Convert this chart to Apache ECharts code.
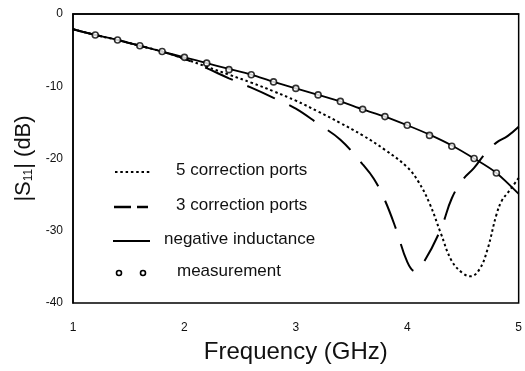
<!DOCTYPE html>
<html>
<head>
<meta charset="utf-8">
<script src="https://cdn.jsdelivr.net/npm/echarts@6/dist/echarts.min.js"></script>
<style>
html,body{margin:0;padding:0;background:#fff;}
#chart{width:525px;height:371px;}
</style>
</head>
<body>
<div id="chart"></div>
<script>
// ---- data ----
const negFreq = [1.0,1.2,1.4,1.6,1.8,2.0,2.2,2.4,2.6,2.8,3.0,3.2,3.4,3.6,3.8,4.0,4.2,4.4,4.6,4.8,5.0];
const negVal  = [-2.1,-2.9,-3.6,-4.4,-5.2,-6.0,-6.8,-7.6,-8.4,-9.4,-10.3,-11.2,-12.1,-13.2,-14.2,-15.4,-16.7,-18.2,-20.0,-22.0,-24.9];

const p5Freq = [1.0,1.2,1.4,1.6,1.8,2.0,2.2,2.4,2.6,2.8,3.0,3.2,3.4,3.6,3.8,4.0,4.1,4.2,4.3,4.4,4.5,4.57,4.65,4.72,4.8,4.85,4.9,5.0];
const p5Val  = [-2.1,-2.9,-3.6,-4.4,-5.2,-6.2,-7.3,-8.4,-9.5,-10.7,-12.0,-13.5,-15.1,-16.8,-18.8,-21.2,-23.2,-26.2,-30.3,-34.2,-35.9,-36.3,-35.3,-32.6,-27.8,-25.8,-24.8,-22.7];

const p3Freq = [1.0,1.2,1.4,1.6,1.8,2.0,2.2,2.4,2.6,2.8,3.0,3.2,3.4,3.6,3.7,3.8,3.9,4.0,4.07,4.15,4.3,4.4,4.5,4.6,4.7,4.8,4.9,5.0];
const p3Val  = [-2.1,-2.9,-3.6,-4.4,-5.2,-6.2,-7.5,-8.9,-10.2,-11.6,-13.1,-15.2,-17.4,-20.8,-22.8,-25.8,-29.8,-34.3,-35.6,-34.3,-29.8,-25.5,-22.9,-21.3,-19.3,-17.8,-16.9,-15.6];

const measFreq = [1.2,1.4,1.6,1.8,2.0,2.2,2.4,2.6,2.8,3.0,3.2,3.4,3.6,3.8,4.0,4.2,4.4,4.6,4.8];
const measVal  = [-2.9,-3.6,-4.4,-5.2,-6.0,-6.8,-7.7,-8.4,-9.4,-10.3,-11.2,-12.1,-13.2,-14.2,-15.4,-16.8,-18.3,-20.0,-22.0];

const xTicks = [1,2,3,4,5];
const yTicks = [0,-10,-20,-30,-40];

const legendLabels = ['5 correction ports','3 correction ports','negative inductance','measurement'];

const pair = (xs, ys) => xs.map((x, i) => [x, ys[i]]);

const chart = echarts.init(document.getElementById('chart'), null, {renderer: 'canvas'});
const FONT = 'Liberation Sans, Arial, sans-serif';

const option = {
  animation: false,
  backgroundColor: '#fff',
  grid: {left: 73, right: 6, top: 14, bottom: 68, show: true, borderColor: '#000', borderWidth: 1.5, backgroundColor: 'transparent'},
  xAxis: {
    type: 'value', min: 1, max: 5, interval: 1,
    axisLine: {show: true, lineStyle: {color: '#000', width: 1.5}},
    axisTick: {show: false},
    splitLine: {show: false},
    axisLabel: {color: '#111', fontSize: 12, fontFamily: FONT, margin: 19,
      formatter: v => xTicks.includes(v) ? String(v) : ''},
    name: 'Frequency (GHz)', nameLocation: 'middle', nameGap: 37,
    nameTextStyle: {color: '#111', fontSize: 24, fontFamily: FONT}
  },
  yAxis: {
    type: 'value', min: -40, max: 0, interval: 10,
    axisLine: {show: true, lineStyle: {color: '#000', width: 1.5}},
    axisTick: {show: false},
    splitLine: {show: false},
    axisLabel: {color: '#111', fontSize: 12, fontFamily: FONT, margin: 10,
      formatter: v => yTicks.includes(v) ? String(v) : ''},
    name: '|S{sub|11}| (dB)', nameLocation: 'middle', nameGap: 38, nameRotate: 90,
    nameTextStyle: {color: '#111', fontSize: 22, fontFamily: FONT,
      rich: {sub: {fontSize: 12, fontFamily: FONT, color: '#111', verticalAlign: 'bottom', padding: [8, 0, 0, 0]}}}
  },
  series: [
    {name: legendLabels[0], type: 'line', data: pair(p5Freq, p5Val), smooth: 0.4, showSymbol: false,
      lineStyle: {color: '#000', width: 2, type: [2.5, 2.8]}},
    {name: legendLabels[1], type: 'line', data: pair(p3Freq, p3Val), smooth: 0.4, showSymbol: false,
      lineStyle: {color: '#000', width: 2, type: [30, 16]}},
    {name: legendLabels[2], type: 'line', data: pair(negFreq, negVal), smooth: 0.3, showSymbol: false,
      lineStyle: {color: '#000', width: 1.8}},
    {name: legendLabels[3], type: 'scatter', data: pair(measFreq, measVal), symbol: 'circle', symbolSize: 6,
      itemStyle: {color: '#fff', borderColor: '#000', borderWidth: 1.6}, z: 5}
  ],
  graphic: [
    // legend samples
    {type: 'line', shape: {x1: 115, y1: 172, x2: 150, y2: 172}, style: {stroke: '#000', lineWidth: 2, lineDash: [2.5, 2.8]}},
    {type: 'line', shape: {x1: 114, y1: 207, x2: 131, y2: 207}, style: {stroke: '#000', lineWidth: 2.5}},
    {type: 'line', shape: {x1: 137, y1: 207, x2: 148, y2: 207}, style: {stroke: '#000', lineWidth: 2.5}},
    {type: 'line', shape: {x1: 113, y1: 241, x2: 150, y2: 241}, style: {stroke: '#000', lineWidth: 2}},
    {type: 'circle', shape: {cx: 119, cy: 273, r: 2.5}, style: {fill: '#fff', stroke: '#000', lineWidth: 1.6}},
    {type: 'circle', shape: {cx: 143, cy: 273, r: 2.5}, style: {fill: '#fff', stroke: '#000', lineWidth: 1.6}},
    // legend labels
    {type: 'text', left: 176, top: 162, style: {text: legendLabels[0], fill: '#111', fontSize: 17, fontFamily: FONT}},
    {type: 'text', left: 176, top: 197, style: {text: legendLabels[1], fill: '#111', fontSize: 17, fontFamily: FONT}},
    {type: 'text', left: 164, top: 231, style: {text: legendLabels[2], fill: '#111', fontSize: 17, fontFamily: FONT}},
    {type: 'text', left: 177, top: 263, style: {text: legendLabels[3], fill: '#111', fontSize: 17, fontFamily: FONT}}
  ]
};
chart.setOption(option);
</script>
</body>
</html>
